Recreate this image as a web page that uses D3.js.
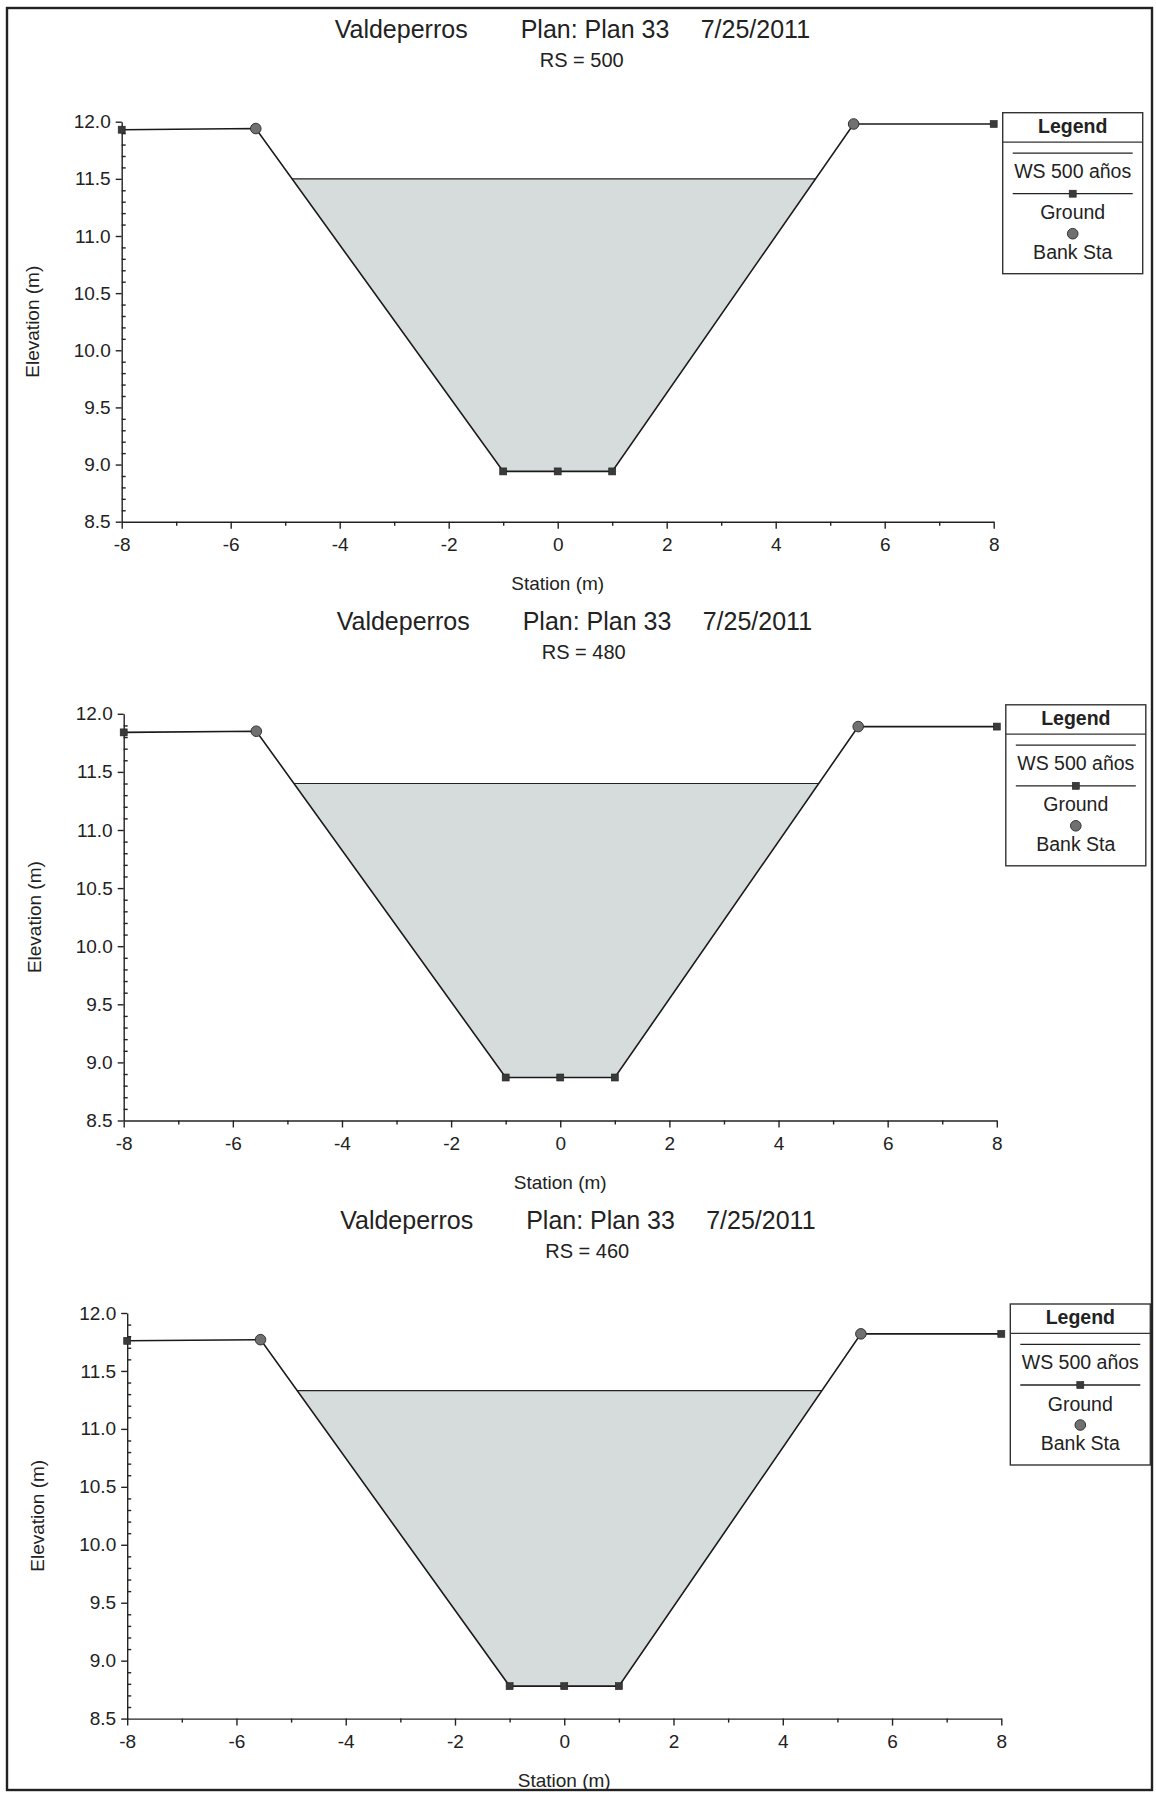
<!DOCTYPE html>
<head>
  <meta charset="utf-8">
  <title>Valdeperros - Plan 33</title>
  <script src="https://d3js.org/d3.v7.min.js"></script>
  <style>
    body {
      margin: 0;
      background: #fff;
    }
    text {
      font-family: 'Liberation Sans', Arial, sans-serif;
      fill: #222;
    }
    .axis path, .axis line {
      stroke: #222;
      stroke-width: 1.4;
      fill: none;
    }
    .axis text {
      font-size: 19px;
    }
    .minor path {
      display: none;
    }
    .ground {
      fill: none;
      stroke: #1a1a1a;
      stroke-width: 1.6;
    }
    .ws-line {
      stroke: #222;
      stroke-width: 1.1;
    }
    .water {
      fill: #d5dcdb;
      stroke: none;
    }
    .ground-pt {
      fill: #3a3a3a;
      stroke: #222;
      stroke-width: 0.6;
    }
    .bank-pt {
      fill: #707070;
      stroke: #333;
      stroke-width: 1;
    }
    .legend-box {
      fill: #fff;
      stroke: #333;
      stroke-width: 1.4;
    }
  </style>
</head>

<body>
  <script>
    var riverName = "Valdeperros";
    var planName = "Plan: Plan 33";
    var planDate = "7/25/2011";
    var sectionNames = ["500", "480", "460"];

    var rs500Station = [-8, -5.54, -1, 0, 1, 5.43, 8];
    var rs500Elev    = [11.93, 11.94, 8.94, 8.94, 8.94, 11.98, 11.98];
    var rs480Station = [-8, -5.57, -1, 0, 1, 5.46, 8];
    var rs480Elev    = [11.84, 11.85, 8.87, 8.87, 8.87, 11.89, 11.89];
    var rs460Station = [-8, -5.56, -1, 0, 1, 5.43, 8];
    var rs460Elev    = [11.76, 11.77, 8.78, 8.78, 8.78, 11.82, 11.82];

    var wsElev = [11.50, 11.40, 11.33];   // WS 500 años, one per section
    var bankIndex = [1, 5];               // which ground points are bank stations

    var xTicks = [-8, -6, -4, -2, 0, 2, 4, 6, 8];
    var xMinorTicks = [-7, -5, -3, -1, 1, 3, 5, 7];
    var yTicks = [8.5, 9.0, 9.5, 10.0, 10.5, 11.0, 11.5, 12.0];
    var legendLabels = ["WS 500 años", "Ground", "Bank Sta"];

    var stations = [rs500Station, rs480Station, rs460Station];
    var elevs = [rs500Elev, rs480Elev, rs460Elev];

    // plot areas on the page (the scan is slightly skewed, so each differs a bit)
    var panels = [
      {left: 121.7, right: 993.7, top: 121.7, bottom: 521.7},
      {left: 123.7, right: 996.8, top: 713.8, bottom: 1120.5},
      {left: 127.2, right: 1001.3, top: 1313, bottom: 1718.6}
    ];

    var W = 1156, H = 1796;

    var svg = d3.select("body").append("svg")
      .attr("width", W)
      .attr("height", H);

    svg.append("rect")
      .attr("width", W)
      .attr("height", H)
      .attr("fill", "#fff");

    // page frame
    svg.append("rect")
      .attr("x", 7)
      .attr("y", 8)
      .attr("width", 1145)
      .attr("height", 1782)
      .attr("fill", "none")
      .attr("stroke", "#222")
      .attr("stroke-width", 2.4);

    // part of the ground that is below the water surface, with the two crossing points
    function wetPoints(st, el, ws) {
      var pts = [];
      for (var i = 0; i < st.length; i++) {
        if (i > 0) {
          var a = el[i - 1] - ws, b = el[i] - ws;
          if ((a > 0 && b < 0) || (a < 0 && b > 0)) {
            var t = a / (a - b);
            pts.push([st[i - 1] + t * (st[i] - st[i - 1]), ws]);
          }
        }
        if (el[i] <= ws) pts.push([st[i], el[i]]);
      }
      return pts;
    }

    sectionNames.forEach(function(rs, k) {
      var p = panels[k];
      var st = stations[k], el = elevs[k], ws = wsElev[k];
      var ground = st.map(function(s, i) { return {sta: s, elev: el[i], bank: bankIndex.indexOf(i) >= 0}; });

      var x = d3.scaleLinear().domain([-8, 8]).range([p.left, p.right]);
      var y = d3.scaleLinear().domain([8.5, 12]).range([p.bottom, p.top]);

      var g = svg.append("g");

      // titles
      g.append("text")
        .attr("x", p.left + 213)
        .attr("y", p.top - 84)
        .style("font-size", "25px")
        .text(riverName);
      g.append("text")
        .attr("x", p.left + 399)
        .attr("y", p.top - 84)
        .style("font-size", "25px")
        .text(planName);
      g.append("text")
        .attr("x", p.left + 579)
        .attr("y", p.top - 84)
        .style("font-size", "25px")
        .text(planDate);
      g.append("text")
        .attr("x", p.left + 460)
        .attr("y", p.top - 55)
        .attr("text-anchor", "middle")
        .style("font-size", "20px")
        .text("RS = " + rs);

      // water
      var wet = wetPoints(st, el, ws);
      g.append("path")
        .attr("class", "water")
        .attr("d", d3.line().x(d => x(d[0])).y(d => y(d[1]))(wet) + "Z");
      g.append("line")
        .attr("class", "ws-line")
        .attr("x1", x(wet[0][0]))
        .attr("x2", x(wet[wet.length - 1][0]))
        .attr("y1", y(ws))
        .attr("y2", y(ws));

      // axes
      g.append("g")
        .attr("class", "axis")
        .attr("transform", "translate(" + p.left + ",0)")
        .call(d3.axisLeft(y).tickValues(yTicks).tickSize(6).tickSizeOuter(0).tickPadding(5)
          .tickFormat(d3.format(".1f")));
      g.append("g")
        .attr("class", "axis minor")
        .attr("transform", "translate(" + p.left + ",0)")
        .call(d3.axisRight(y).tickValues(d3.range(8.6, 12, 0.1).filter(v => Math.abs(v * 2 - Math.round(v * 2)) > 0.01))
          .tickSize(4).tickFormat(""));
      g.append("g")
        .attr("class", "axis")
        .attr("transform", "translate(0," + p.bottom + ")")
        .call(d3.axisBottom(x).tickValues(xTicks).tickSize(7).tickSizeOuter(0).tickPadding(9)
          .tickFormat(d => String(d)));
      g.append("g")
        .attr("class", "axis minor")
        .attr("transform", "translate(0," + p.bottom + ")")
        .call(d3.axisBottom(x).tickValues(xMinorTicks).tickSize(4).tickFormat(""));

      g.append("text")
        .attr("x", (p.left + p.right) / 2)
        .attr("y", p.bottom + 68)
        .attr("text-anchor", "middle")
        .style("font-size", "19px")
        .text("Station (m)");
      g.append("text")
        .attr("transform", "translate(" + (p.left - 83) + "," + ((p.top + p.bottom) / 2) + ") rotate(-90)")
        .attr("text-anchor", "middle")
        .style("font-size", "19px")
        .text("Elevation (m)");

      // ground line and points
      g.append("path")
        .attr("class", "ground")
        .attr("d", d3.line().x(d => x(d.sta)).y(d => y(d.elev))(ground));
      g.selectAll(".ground-pt")
        .data(ground.filter(d => !d.bank))
        .enter().append("rect")
          .attr("class", "ground-pt")
          .attr("x", d => x(d.sta) - 3.5)
          .attr("y", d => y(d.elev) - 3.5)
          .attr("width", 7)
          .attr("height", 7);
      g.selectAll(".bank-pt")
        .data(ground.filter(d => d.bank))
        .enter().append("circle")
          .attr("class", "bank-pt")
          .attr("cx", d => x(d.sta))
          .attr("cy", d => y(d.elev))
          .attr("r", 5.3);

      // legend
      var lx = p.right + 9, ly = p.top - 9, lw = 140;
      var lg = g.append("g").attr("transform", "translate(" + lx + "," + ly + ")");
      lg.append("rect")
        .attr("class", "legend-box")
        .attr("width", lw)
        .attr("height", 161);
      lg.append("text")
        .attr("x", lw / 2)
        .attr("y", 20)
        .attr("text-anchor", "middle")
        .style("font-size", "19.5px")
        .style("font-weight", "bold")
        .text("Legend");
      lg.append("line")
        .attr("x1", 0).attr("x2", lw)
        .attr("y1", 29.4).attr("y2", 29.4)
        .attr("stroke", "#333").attr("stroke-width", 1.2);
      lg.append("line")
        .attr("x1", 10).attr("x2", lw - 10)
        .attr("y1", 40.4).attr("y2", 40.4)
        .attr("stroke", "#222").attr("stroke-width", 1.3);
      lg.append("line")
        .attr("x1", 10).attr("x2", lw - 10)
        .attr("y1", 81).attr("y2", 81)
        .attr("stroke", "#222").attr("stroke-width", 1.3);
      lg.append("rect")
        .attr("class", "ground-pt")
        .attr("x", lw / 2 - 3.5).attr("y", 81 - 3.5)
        .attr("width", 7).attr("height", 7);
      lg.append("circle")
        .attr("class", "bank-pt")
        .attr("cx", lw / 2).attr("cy", 121)
        .attr("r", 5.3);
      lg.selectAll(".legend-label")
        .data(legendLabels)
        .enter().append("text")
          .attr("class", "legend-label")
          .attr("x", lw / 2)
          .attr("y", (d, i) => [65, 106.7, 146][i])
          .attr("text-anchor", "middle")
          .style("font-size", "19.5px")
          .text(d => d);
    });
  </script>
</body>
